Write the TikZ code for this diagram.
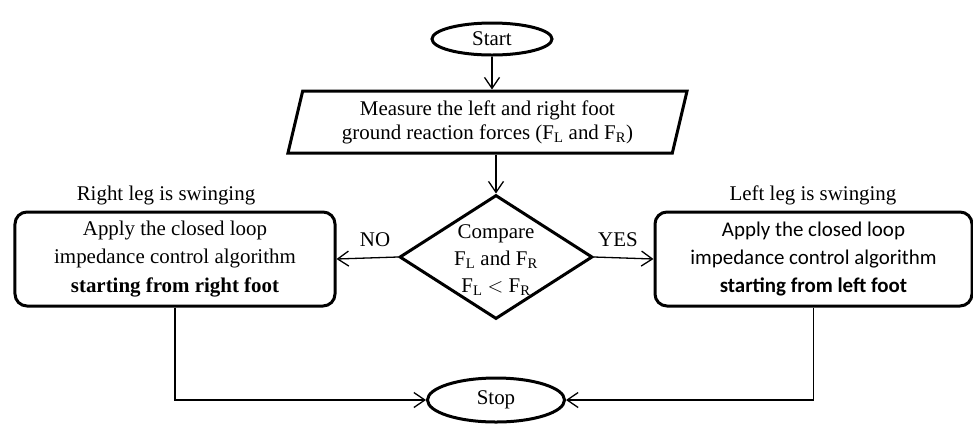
\documentclass[tikz,border=0pt]{standalone}
\usepackage{fontspec}
\setmainfont{Liberation Serif}[BoldFont={Liberation Serif Bold}]
\newfontfamily\calibrifont{Carlito}
\usetikzlibrary{shapes.geometric, arrows.meta}

\begin{document}
\begin{tikzpicture}[x=1bp, y=-1bp,
  every node/.style={font=\fontsize{21}{28.5}\selectfont, align=center, inner sep=0pt},
  term/.style={ellipse, draw, line width=3bp},
  iobox/.style={trapezium, trapezium left angle=76, trapezium right angle=104,
    trapezium stretches=true, draw, line width=3bp, inner sep=2bp,
    minimum width=401bp, minimum height=62bp},
  decision/.style={diamond, draw, line width=3bp, inner sep=1bp,
    minimum width=193bp, minimum height=124bp},
  process/.style={rectangle, rounded corners=12bp, draw, line width=3bp, minimum height=94bp},
  flow/.style={line width=1.3bp, -{Straight Barb[length=11bp, width=15bp]}}]

\useasboundingbox (0,0) rectangle (973,423);

\node (start) at (492,39) [term, minimum width=120bp, minimum height=32bp] {Start};

\node (measure) at (487.5,122) [iobox, font=\fontsize{21}{24}\selectfont]
{Measure the left and right foot\\ground reaction forces (F\textsubscript{L} and F\textsubscript{R})};

\node (cmp) at (496,257) [decision] {};
\node (cmptext) at (496,260) [font=\fontsize{21}{27}\selectfont]
{Compare\\F\textsubscript{L} and F\textsubscript{R}\\F\textsubscript{L} $<$ F\textsubscript{R}};

\node (rightswing) at (175,259) [process, minimum width=320bp]
{Apply the closed loop\\impedance control algorithm\\\textbf{starting from right foot}};
\node (leftswing) at (813.5,259) [process, minimum width=317bp]
{\calibrifont Apply the closed loop\\\calibrifont impedance control algorithm\\\calibrifont\bfseries starting from left foot};

\node (rightlabel) at (166,195) {Right leg is swinging};
\node (leftlabel) at (813,195) {Left leg is swinging};

\node (no) at (375,240) {NO};
\node (yes) at (618,240) {YES};

\node (stop) at (496,400) [term, minimum width=137bp, minimum height=44bp] {Stop};

\draw [flow] (start.south) -- (start.south |- measure.north);
\draw [flow] (cmp.north |- measure.south) -- (cmp.north);
\draw [flow] (cmp.west) -- (rightswing.east);
\draw [flow] (cmp.east) -- (leftswing.west);
\draw [flow] (rightswing.south) |- (stop.west);
\draw [flow] (leftswing.south) |- (stop.east);

\end{tikzpicture}
\end{document}
